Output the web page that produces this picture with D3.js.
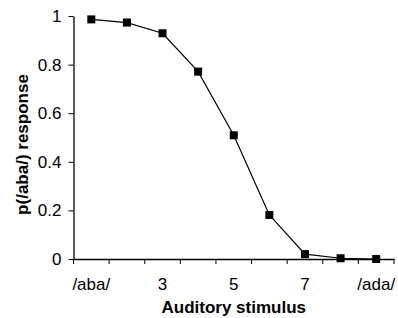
<!DOCTYPE html>
<html>
<head>
<meta charset="utf-8">
<script src="https://cdn.jsdelivr.net/npm/d3@7"></script>
<style>
  body { margin: 0; background: #fff; }
  svg { display: block; font-family: "Liberation Sans", Arial, sans-serif; }
</style>
</head>
<body>
<div id="chart"></div>
<script>
// ── Data ───────────────────────────────────────────────────────────────
const stimuli = [1, 2, 3, 4, 5, 6, 7, 8, 9];
const stimulusLabels = ["/aba/", "", "3", "", "5", "", "7", "", "/ada/"];
const pAba = [0.986, 0.973, 0.929, 0.771, 0.509, 0.181, 0.02, 0.003, 0.0];
const yTicks = [0, 0.2, 0.4, 0.6, 0.8, 1];

// ── Dimensions ─────────────────────────────────────────────────────────
const W = 398, H = 318;
const margin = { top: 16, right: 4, bottom: 59, left: 73.5 };
const width = W - margin.left - margin.right;
const height = H - margin.top - margin.bottom;

const svg = d3.select("#chart").append("svg")
  .attr("width", W).attr("height", H);

const g = svg.append("g")
  .attr("transform", `translate(${margin.left},${margin.top})`);

// ── Scales ─────────────────────────────────────────────────────────────
const x = d3.scaleBand().domain(stimuli).range([0, width]).padding(0);
const y = d3.scaleLinear().domain([0, 1]).range([height, 0]);

// ── Axes ───────────────────────────────────────────────────────────────
g.append("g")
  .call(d3.axisLeft(y).tickValues(yTicks).tickSize(5).tickSizeOuter(0)
    .tickPadding(7).tickFormat(d => d3.format("~g")(d)));

const xAxis = g.append("g")
  .attr("transform", `translate(0,${height})`)
  .call(d3.axisBottom(x).tickSize(0).tickSizeOuter(0).tickPadding(19)
    .tickFormat((d, i) => stimulusLabels[i]));

// tick marks sit on the band boundaries
xAxis.selectAll(".bound")
  .data(stimuli.concat([stimuli.length + 1]))
  .join("line")
  .attr("class", "bound")
  .attr("x1", (d, i) => i * x.bandwidth())
  .attr("x2", (d, i) => i * x.bandwidth())
  .attr("y1", 0).attr("y2", 5)
  .attr("stroke", "#000");

svg.selectAll(".domain").attr("stroke", "#000").attr("stroke-width", 1.3);
svg.selectAll(".tick line").attr("stroke", "#000");
svg.selectAll(".tick text")
  .attr("fill", "#000")
  .style("font-size", "17px");

// ── Axis Labels ────────────────────────────────────────────────────────
svg.append("text")
  .attr("transform", `translate(28,${margin.top + height / 2 + 7}) rotate(-90)`)
  .attr("text-anchor", "middle")
  .style("font-size", "17px")
  .style("font-weight", "bold")
  .text("p(/aba/) response");

svg.append("text")
  .attr("x", margin.left + width / 2)
  .attr("y", 313)
  .attr("text-anchor", "middle")
  .style("font-size", "17px")
  .style("font-weight", "bold")
  .text("Auditory stimulus");

// ── Line + markers ─────────────────────────────────────────────────────
const cx = d => x(d) + x.bandwidth() / 2;

g.append("path")
  .datum(stimuli)
  .attr("fill", "none")
  .attr("stroke", "#000")
  .attr("stroke-width", 1.2)
  .attr("d", d3.line().x(d => cx(d)).y((d, i) => y(pAba[i])));

g.selectAll(".marker")
  .data(stimuli)
  .join("rect")
  .attr("class", "marker")
  .attr("x", d => cx(d) - 4)
  .attr("y", (d, i) => y(pAba[i]) - 4)
  .attr("width", 8)
  .attr("height", 8)
  .attr("fill", "#000");
</script>
</body>
</html>
